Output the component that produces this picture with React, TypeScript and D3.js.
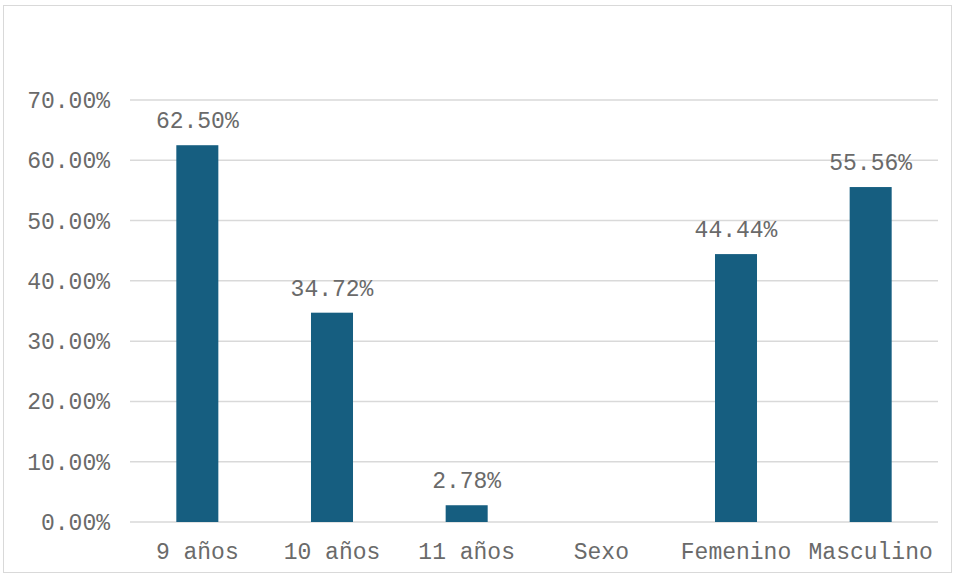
import React from "react";
import * as d3 from "d3";

const categories = ["9 años", "10 años", "11 años", "Sexo", "Femenino", "Masculino"];
const values: (number | null)[] = [62.5, 34.72, 2.78, null, 44.44, 55.56];
const yTicks = [0, 10, 20, 30, 40, 50, 60, 70];

const W = 955;
const H = 576;
const FONT = "'Liberation Mono', 'Courier New', monospace";
const FS = 23;
const TXT = "#6a6a6a";

export default function App() {
  const x = d3.scaleBand<string>().domain(categories).range([130, 938]).padding(0);
  const y = d3.scaleLinear().domain([0, 70]).range([522, 100]);
  const barW = x.bandwidth() * 0.312;
  const fmt = (v: number) => v.toFixed(2) + "%";

  return (
    <svg width={W} height={H} style={{ position: "absolute", left: 0, top: 0 }}>
      <rect x={3.5} y={5.5} width={948} height={567} fill="#fff" stroke="#d9d9d9" strokeWidth={1} />
      {yTicks.map((t) => (
        <g key={t}>
          <line x1={130} x2={938} y1={y(t)} y2={y(t)} stroke="#d9d9d9" strokeWidth={1.5} />
          <text x={110} y={y(t)} dy="0.35em" textAnchor="end" fontFamily={FONT} fontSize={FS} fill={TXT}>
            {fmt(t)}
          </text>
        </g>
      ))}
      {categories.map((c, i) => {
        const v = values[i];
        const cx = (x(c) as number) + x.bandwidth() / 2;
        return (
          <g key={c}>
            {v !== null && (
              <>
                <rect x={cx - barW / 2} y={y(v)} width={barW} height={y(0) - y(v)} fill="#165e80" />
                <text x={cx} y={y(v) - 25} dy="0.35em" textAnchor="middle" fontFamily={FONT} fontSize={FS} fill={TXT}>
                  {fmt(v)}
                </text>
              </>
            )}
            <text x={cx} y={551} dy="0.35em" textAnchor="middle" fontFamily={FONT} fontSize={FS} fill={TXT}>
              {c}
            </text>
          </g>
        );
      })}
    </svg>
  );
}
